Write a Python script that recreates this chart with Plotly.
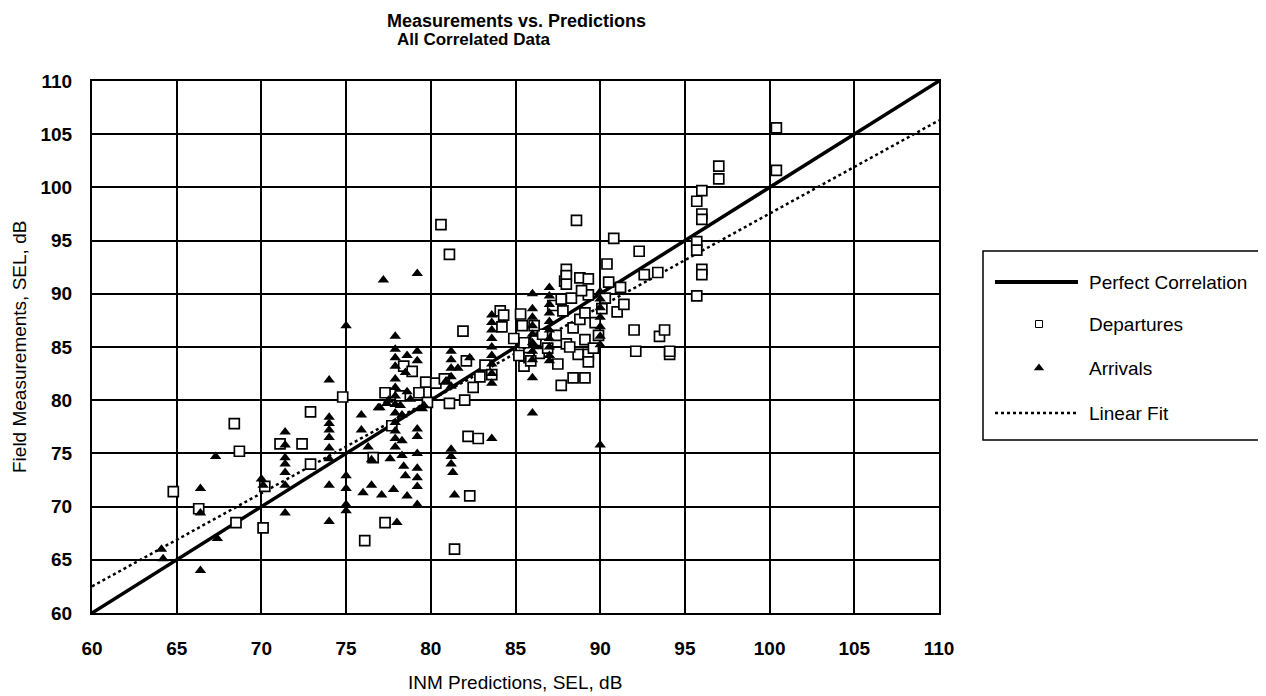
import plotly.graph_objects as go

W, H = 1266, 696
OFF = 8  # page body margin offset between figure coords and screen coords

# ---- data ----
perfect_x = [60, 110]
perfect_y = [60, 110]

fit_x = [60, 110]
fit_y = [62.5, 106.3]

dep_x = [64.8, 66.3, 68.4, 68.7, 68.5, 70.1, 70.2, 71.1, 72.4, 72.9, 72.9, 74.8, 76.1, 77.3, 77.3,
         77.7, 78.2, 78.4, 78.9, 79.3, 79.7, 80.3, 80.6, 81.1, 81.1, 82.0, 81.9, 82.1, 82.2, 82.8,
         82.3, 81.4, 82.5, 82.9, 83.2, 83.6, 84.1, 84.2, 85.3, 85.4, 85.5, 85.2, 85.5, 85.8, 86.2,
         86.4, 86.6, 87.2, 87.7, 87.8, 87.7, 87.9, 88.0, 88.0, 88.0, 88.0, 88.3, 88.4, 88.4, 88.6,
         88.7, 88.8, 88.8, 89.1, 89.1, 89.1, 89.3, 89.3, 89.3, 89.3, 89.6, 89.9, 90.4, 90.5, 90.3,
         90.8, 91.0, 91.2, 91.4, 92.0, 92.1, 92.3, 92.6, 93.4, 93.5, 93.8, 94.1, 94.1, 95.7, 96.0,
         96.0, 96.0, 95.7, 95.7, 96.0, 96.0, 95.7, 97.0, 97.0, 100.4, 100.4, 76.6, 79.8, 80.8, 84.3,
         86.1, 86.9, 87.4, 88.2, 89.7, 90.1, 85.9, 84.9, 87.5, 88.9]
dep_y = [71.4, 69.8, 77.8, 75.2, 68.5, 68.0, 71.9, 75.9, 75.9, 78.9, 74.0, 80.3, 66.8, 68.5, 80.7,
         77.6, 80.4, 83.2, 82.7, 80.7, 81.7, 81.6, 96.5, 93.7, 79.7, 80.0, 86.5, 83.7, 76.6, 76.4,
         71.0, 66.0, 81.2, 82.2, 83.3, 82.4, 88.4, 86.9, 88.1, 87.0, 85.4, 84.2, 83.2, 84.0, 85.6,
         84.4, 86.2, 88.9, 89.5, 88.4, 81.4, 91.2, 92.3, 91.7, 90.9, 85.3, 89.6, 86.8, 82.1, 96.9,
         84.3, 91.5, 87.6, 88.2, 85.7, 82.1, 91.4, 89.9, 84.3, 83.6, 84.9, 86.1, 92.8, 91.1, 89.6,
         95.2, 88.3, 90.6, 89.0, 86.6, 84.6, 94.0, 91.8, 92.0, 86.0, 86.6, 84.3, 84.6, 98.7, 99.7,
         97.5, 97.0, 94.9, 94.1, 92.3, 91.8, 89.8, 102.0, 100.8, 101.6, 105.6, 74.6, 79.8, 82.0, 88.0,
         87.0, 84.9, 86.1, 85.0, 87.3, 88.6, 83.7, 85.8, 83.4, 90.3]

arr_x = [64.1, 64.2, 66.4, 66.4, 66.4, 67.3, 67.4, 70.0, 70.1, 71.4, 71.4, 71.4, 71.4, 71.4, 71.4,
         71.4, 74.0, 74.0, 74.0, 74.0, 74.0, 74.0, 74.0, 74.0, 74.0, 75.0, 75.0, 75.0, 75.0, 75.0,
         75.9, 75.9, 76.0, 76.3, 76.5, 76.5, 77.1, 77.2, 77.0, 77.4, 77.6, 77.8, 78.0, 77.9, 77.9,
         77.9, 77.9, 77.9, 77.9, 77.9, 77.9, 77.9, 77.9, 77.9, 77.9, 77.9, 78.2, 78.3, 78.3, 78.3,
         78.4, 78.5, 78.6, 78.6, 78.5, 78.6, 79.2, 79.2, 79.2, 79.2, 79.2, 79.2, 79.2, 79.2, 79.2,
         79.2, 79.6, 81.2, 81.2, 81.2, 81.2, 81.2, 81.2, 81.2, 81.2, 81.3, 81.4, 83.6, 83.6, 83.6,
         83.6, 83.6, 83.6, 83.6, 83.6, 83.6, 83.6, 86.0, 86.0, 86.0, 86.0, 86.0, 86.0, 86.0, 86.0,
         86.0, 86.0, 87.0, 87.0, 87.0, 87.0, 87.0, 87.0, 87.0, 87.0, 87.0, 87.0, 90.0, 90.0, 90.0,
         90.0, 90.0, 90.0, 90.0, 90.0, 77.5, 78.8, 79.5, 76.9, 80.9, 81.6, 82.3]
arr_y = [66.0, 65.1, 71.7, 69.4, 64.0, 74.7, 67.0, 72.6, 72.0, 77.0, 75.8, 74.6, 74.0, 73.2, 72.0,
         69.4, 81.9, 78.4, 77.8, 77.2, 76.5, 75.5, 74.5, 72.0, 68.6, 87.0, 72.9, 71.7, 70.2, 69.6,
         78.6, 77.2, 71.3, 75.6, 74.4, 72.0, 71.1, 91.3, 79.3, 79.7, 74.5, 71.6, 68.5, 86.0, 84.8,
         84.0, 83.2, 82.0, 81.2, 80.4, 79.6, 78.8, 77.9, 77.1, 76.4, 75.6, 79.5, 78.6, 76.2, 74.8,
         73.8, 72.9, 71.0, 80.8, 82.6, 84.2, 91.9, 84.6, 83.7, 77.3, 76.6, 75.0, 73.6, 72.7, 71.9,
         70.2, 79.5, 84.6, 83.8, 83.0, 82.2, 81.3, 75.4, 74.7, 74.0, 73.2, 71.1, 76.4, 88.0, 87.3,
         86.6, 85.8, 85.0, 84.2, 83.4, 82.5, 81.6, 90.0, 88.6, 87.8, 87.0, 86.2, 85.4, 84.6, 83.8,
         82.1, 78.8, 90.6, 89.8, 89.0, 88.2, 87.4, 86.6, 85.8, 85.0, 84.2, 83.7, 90.2, 89.5, 88.7,
         87.8, 86.9, 86.0, 85.2, 75.8, 80.0, 80.1, 79.2, 79.3, 81.8, 83.0, 84.0]

x_ticks = [60, 65, 70, 75, 80, 85, 90, 95, 100, 105, 110]
y_ticks = [60, 65, 70, 75, 80, 85, 90, 95, 100, 105, 110]

legend_names = ["Perfect Correlation", "Departures", "Arrivals", "Linear Fit"]

# ---- layout geometry (screen pixels, converted with OFF) ----
def px(x):
    return (x - OFF) / W

def py(y):
    return 1 - (y - OFF) / H

PL, PR, PT, PB = 92, 939, 81, 613
LG_L, LG_R, LG_T, LG_B = 983, 1263, 251, 440
FONT = "Liberation Sans, Arial, sans-serif"

fig = go.Figure()

fig.add_trace(go.Scatter(x=perfect_x, y=perfect_y, mode="lines",
                         line=dict(color="black", width=3.5), name=legend_names[0],
                         showlegend=False, hoverinfo="skip"))
fig.add_trace(go.Scatter(x=fit_x, y=fit_y, mode="lines",
                         line=dict(color="black", width=2.5, dash="dot"), name=legend_names[3],
                         showlegend=False, hoverinfo="skip"))
fig.add_trace(go.Scatter(x=dep_x, y=dep_y, mode="markers", name=legend_names[1],
                         marker=dict(symbol="square", size=10, color="white",
                                     line=dict(width=1.7, color="black")),
                         showlegend=False))
fig.add_trace(go.Scatter(x=arr_x, y=arr_y, mode="markers", name=legend_names[2],
                         marker=dict(symbol="triangle-up", size=10, color="black",
                                     line=dict(width=0)),
                         showlegend=False))

# ---- custom legend on an overlay axis ----
lh = LG_B - LG_T
rows_y = [1 - (282 - LG_T) / lh, 1 - (324 - LG_T) / lh,
          1 - (368 - LG_T) / lh, 1 - (413 - LG_T) / lh]
sx0 = (995 - LG_L) / (LG_R - LG_L)
sx1 = (1078 - LG_L) / (LG_R - LG_L)
mx = (1039 - LG_L) / (LG_R - LG_L)
tx = (1087 - LG_L) / (LG_R - LG_L)

fig.add_trace(go.Scatter(x=[sx0, sx1], y=[rows_y[0]] * 2, mode="lines", xaxis="x2", yaxis="y2",
                         line=dict(color="black", width=4), showlegend=False, hoverinfo="skip"))
fig.add_trace(go.Scatter(x=[mx], y=[rows_y[1]], mode="markers", xaxis="x2", yaxis="y2",
                         marker=dict(symbol="square-open", size=7, color="black",
                                     line=dict(width=1)),
                         showlegend=False, hoverinfo="skip"))
fig.add_trace(go.Scatter(x=[mx], y=[rows_y[2]], mode="markers", xaxis="x2", yaxis="y2",
                         marker=dict(symbol="triangle-up", size=9, color="black"),
                         showlegend=False, hoverinfo="skip"))
fig.add_trace(go.Scatter(x=[sx0, sx1], y=[rows_y[3]] * 2, mode="lines", xaxis="x2", yaxis="y2",
                         line=dict(color="black", width=2.5, dash="dot"),
                         showlegend=False, hoverinfo="skip"))

annotations = []
for name, ry in zip(legend_names, rows_y):
    annotations.append(dict(x=tx, y=ry, xref="x2", yref="y2", text=name, showarrow=False,
                            xanchor="left", yanchor="middle",
                            font=dict(family=FONT, size=19, color="black")))

# titles
annotations.append(dict(x=px(516), y=py(9), xref="paper", yref="paper",
                        text="Measurements vs. Predictions", showarrow=False,
                        xanchor="center", yanchor="top",
                        font=dict(family=FONT, size=18, color="black", weight="bold")))
annotations.append(dict(x=px(474), y=py(40), xref="paper", yref="paper",
                        text="All Correlated Data", showarrow=False,
                        xanchor="center", yanchor="middle",
                        font=dict(family=FONT, size=17, color="black", weight="bold")))
# axis titles
annotations.append(dict(x=px(515), y=py(682), xref="paper", yref="paper",
                        text="INM Predictions, SEL, dB", showarrow=False,
                        xanchor="center", yanchor="middle",
                        font=dict(family=FONT, size=19, color="black")))
annotations.append(dict(x=px(20), y=py(347), xref="paper", yref="paper",
                        text="Field Measurements, SEL, dB", showarrow=False, textangle=-90,
                        xanchor="center", yanchor="middle",
                        font=dict(family=FONT, size=19, color="black")))

shapes = [dict(type="rect", xref="paper", yref="paper",
               x0=px(LG_L), x1=px(LG_R), y0=py(LG_B), y1=py(LG_T),
               line=dict(color="black", width=1.5), fillcolor="rgba(0,0,0,0)")]

fig.update_layout(
    width=W, height=H,
    margin=dict(l=0, r=0, t=0, b=0, autoexpand=False),
    paper_bgcolor="white", plot_bgcolor="white",
    showlegend=False,
    font=dict(family=FONT, color="black"),
    xaxis=dict(domain=[px(PL), px(PR)], range=[60, 110], tickvals=x_ticks,
               ticktext=[str(v) for v in x_ticks], automargin=False,
               showgrid=True, gridcolor="black", gridwidth=1.6,
               showline=True, linecolor="black", linewidth=2, mirror=True,
               zeroline=False, ticks="", ticklabelstandoff=17,
               tickfont=dict(family=FONT, size=19, color="black", weight="bold")),
    yaxis=dict(domain=[py(PB), py(PT)], range=[60, 110], tickvals=y_ticks,
               ticktext=[str(v) for v in y_ticks], automargin=False,
               showgrid=True, gridcolor="black", gridwidth=1.6,
               showline=True, linecolor="black", linewidth=2, mirror=True,
               zeroline=False, ticks="", ticklabelstandoff=14,
               tickfont=dict(family=FONT, size=19, color="black", weight="bold")),
    xaxis2=dict(domain=[px(LG_L), px(LG_R)], range=[0, 1], visible=False, anchor="y2",
                fixedrange=True, automargin=False),
    yaxis2=dict(domain=[py(LG_B), py(LG_T)], range=[0, 1], visible=False, anchor="x2",
                fixedrange=True, automargin=False),
    annotations=annotations,
    shapes=shapes,
)

fig.write_html("out.html")
